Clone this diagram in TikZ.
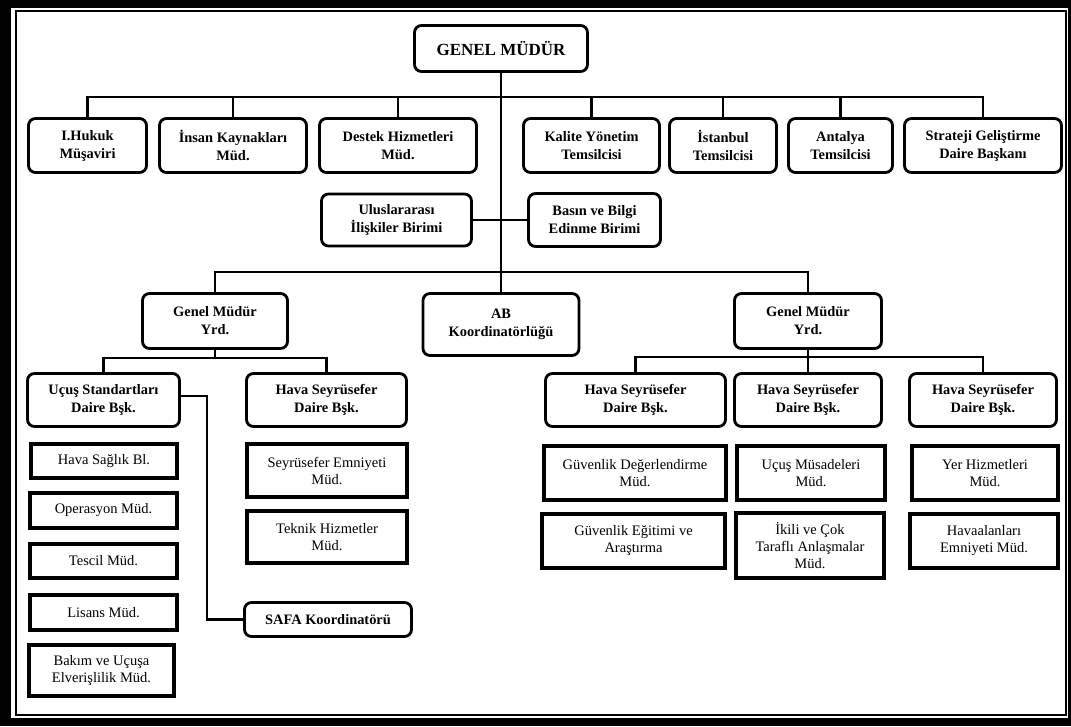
\documentclass[tikz,border=0pt]{standalone}
\usepackage{fontspec}
\setmainfont{Liberation Serif}
\begin{document}
\begin{tikzpicture}[x=1pt,y=-1pt,
  rbox/.style={draw, rounded corners=7pt, line width=2.8pt, inner sep=0pt, align=center,
               font=\bfseries\fontsize{14.4}{18}\selectfont},
  sbox/.style={draw, line width=4pt, inner sep=0pt, align=center,
               font=\fontsize{14.5}{17}\selectfont},
  conn/.style={line width=2.8pt},
  sz/.style 2 args={minimum width=#1pt, minimum height=#2pt}]
\useasboundingbox (0,0) rectangle (1071,726);

% double frame
\fill[black] (0,0) rectangle (1071,726);
\fill[white] (11,8) rectangle (1068,718);
\draw[line width=2pt] (15.5,10.5) rectangle (1066,714.5);

% head
\node[rbox, sz={173}{46}, font=\bfseries\fontsize{17}{20}\selectfont] (gm) at (501,48.5) {GENEL MÜDÜR};

% first level
\node[rbox, sz={118}{54}] (t1) at (87.5,145.5) {I.Hukuk\\Müşaviri};
\node[rbox, sz={147}{54}] (t2) at (233,145.5) {İnsan Kaynakları\\Müd.};
\node[rbox, sz={157}{54}] (t3) at (398,145.5) {Destek Hizmetleri\\Müd.};
\node[rbox, sz={136}{54}] (t4) at (591.5,145.5) {Kalite Yönetim\\Temsilcisi};
\node[rbox, sz={107}{54}] (t5) at (723,145.5) {İstanbul\\Temsilcisi};
\node[rbox, sz={104}{54}] (t6) at (840.5,145.5) {Antalya\\Temsilcisi};
\node[rbox, sz={157}{54}] (t7) at (983,145.5) {Strateji Geliştirme\\Daire Başkanı};

\node[rbox, sz={150}{52}] (ul) at (396.5,220) {Uluslararası\\İlişkiler Birimi};
\node[rbox, sz={132}{53}] (bb) at (594.5,220) {Basın ve Bilgi\\Edinme Birimi};

% second level
\node[rbox, sz={145}{55}] (gyl) at (215,321) {Genel Müdür\\Yrd.};
\node[rbox, sz={156}{62}] (ab) at (501,324.5) {AB\\Koordinatörlüğü};
\node[rbox, sz={147}{55}] (gyr) at (808,321) {Genel Müdür\\Yrd.};

% departments, left
\node[rbox, sz={152}{53}] (us) at (103.5,400) {Uçuş Standartları\\Daire Bşk.};
\node[rbox, sz={160}{53}] (hl) at (326.5,400) {Hava Seyrüsefer\\Daire Bşk.};

% departments, right
\node[rbox, sz={180}{53}] (ha) at (635.5,400) {Hava Seyrüsefer\\Daire Bşk.};
\node[rbox, sz={147}{53}] (hb) at (808,400) {Hava Seyrüsefer\\Daire Bşk.};
\node[rbox, sz={147}{53}] (hc) at (983,400) {Hava Seyrüsefer\\Daire Bşk.};

% units under Uçuş Standartları
\node[sbox, sz={146}{34}] (u1) at (104,461) {Hava Sağlık Bl.};
\node[sbox, sz={147}{35}] (u2) at (103.5,510.5) {Operasyon Müd.};
\node[sbox, sz={147}{34}] (u3) at (103.5,561) {Tescil Müd.};
\node[sbox, sz={147}{35}] (u4) at (103.5,612.5) {Lisans Müd.};
\node[sbox, sz={145}{51}] (u5) at (101.5,670.5) {Bakım ve Uçuşa\\Elverişlilik Müd.};

% units under Hava Seyrüsefer (left)
\node[sbox, sz={160}{53}] (s1) at (327,470.5) {Seyrüsefer Emniyeti\\Müd.};
\node[sbox, sz={160}{52}] (s2) at (327,537) {Teknik Hizmetler\\Müd.};
\node[rbox, sz={167}{34}] (safa) at (328,619.5) {SAFA Koordinatörü};

% units, right
\node[sbox, sz={182}{54}] (a1) at (635,473) {Güvenlik Değerlendirme\\Müd.};
\node[sbox, sz={183}{54}] (a2) at (633.5,541) {Güvenlik Eğitimi ve\\Araştırma};
\node[sbox, sz={148}{54}] (b1) at (811,473) {Uçuş Müsadeleri\\Müd.};
\node[sbox, sz={148}{65}] (b2) at (810,545.5) {İkili ve Çok\\Taraflı Anlaşmalar\\Müd.};
\node[sbox, sz={146}{54}] (c1) at (985,473) {Yer Hizmetleri\\Müd.};
\node[sbox, sz={148}{54}] (c2) at (984,541) {Havaalanları\\Emniyeti Müd.};

% connectors
\coordinate (busA) at (0,97);
\coordinate (busB) at (0,272);
\coordinate (busL) at (0,358);
\coordinate (busR) at (0,357);

\draw[conn] (gm.south) -- (ab.north);
\draw[conn] (t1.north) -- (t1.north |- busA) -- (t7.north |- busA) -- (t7.north);
\foreach \n in {t2,t3,t4,t5,t6}
  \draw[conn] (\n.north) -- (\n.north |- busA);
\draw[conn] (ul.east) -- (bb.west);
\draw[conn] (gyl.north) -- (gyl.north |- busB) -- (gyr.north |- busB) -- (gyr.north);

\draw[conn] (gyl.south) -- (gyl.south |- busL);
\draw[conn] (us.north) -- (us.north |- busL) -- (hl.north |- busL) -- (hl.north);

\draw[conn] (gyr.south) -- (hb.north);
\draw[conn] (ha.north) -- (ha.north |- busR) -- (hc.north |- busR) -- (hc.north);

\draw[conn] ([yshift=4pt]us.east) -- ++(26,0) |- (safa.west);
\end{tikzpicture}
\end{document}
